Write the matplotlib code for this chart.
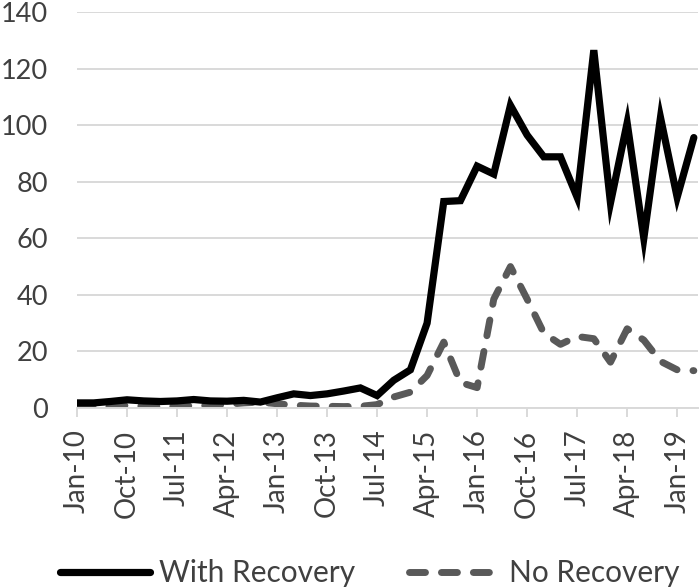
import matplotlib
matplotlib.use("Agg")
import matplotlib.pyplot as plt

categories = [
    "Jan-10", "Apr-10", "Jul-10", "Oct-10", "Jan-11", "Apr-11", "Jul-11", "Oct-11",
    "Jan-12", "Apr-12", "Jul-12", "Oct-12", "Jan-13", "Apr-13", "Jul-13", "Oct-13",
    "Jan-14", "Apr-14", "Jul-14", "Oct-14", "Jan-15", "Apr-15", "Jul-15", "Oct-15",
    "Jan-16", "Apr-16", "Jul-16", "Oct-16", "Jan-17", "Apr-17", "Jul-17", "Oct-17",
    "Jan-18", "Apr-18", "Jul-18", "Oct-18", "Jan-19", "Apr-19",
]

with_recovery = [
    1.8, 1.8, 2.3, 2.9, 2.5, 2.3, 2.5, 3.0, 2.5, 2.4, 2.7, 2.1, 3.6, 5.0, 4.4, 5.0,
    6.0, 7.1, 4.4, 9.8, 13.5, 30.0, 73.0, 73.3, 85.5, 82.7, 107.0, 96.5, 88.8, 88.8,
    74.5, 126.5, 72.5, 100.8, 60.0, 102.7, 74.5, 95.6,
]

no_recovery = [
    0.5, 0.5, 0.6, 0.9, 0.6, 0.5, 0.6, 0.8, 0.9, 1.3, 1.8, 2.1, 1.5, 1.0, 0.7, 0.6,
    0.5, 0.6, 1.2, 3.9, 5.6, 11.5, 23.3, 9.0, 7.2, 38.5, 50.0, 38.5, 26.5, 22.5,
    25.3, 24.5, 16.2, 28.0, 24.0, 16.5, 13.5, 13.2,
]

series_names = ["With Recovery", "No Recovery"]
y_ticks = [0, 20, 40, 60, 80, 100, 120, 140]

text_color = "#404040"
grid_color = "#D9D9D9"

plt.rcParams["font.family"] = ["Lato", "DejaVu Sans"]

fig = plt.figure(figsize=(7.0, 5.88), dpi=100)
ax = fig.add_axes([77 / 700, 1 - 408 / 588, (698 - 77) / 700, (408 - 12) / 588])

x = list(range(len(categories)))
ax.plot(x, with_recovery, color="black", lw=5.2, solid_joinstyle="miter",
        solid_capstyle="round", label=series_names[0], zorder=3)
ax.plot(x, no_recovery, color="#595959", lw=5.0, linestyle=(0, (2.3, 2.3)),
        dash_capstyle="round", dash_joinstyle="round", label=series_names[1], zorder=2)

ax.set_xlim(0, 37.25)
ax.set_ylim(0, 140)
ax.set_yticks(y_ticks)
ax.set_yticklabels([str(v) for v in y_ticks])
tick_idx = list(range(0, len(categories), 3))
ax.set_xticks(tick_idx)
ax.set_xticklabels([categories[i] for i in tick_idx], rotation=90)

ax.yaxis.grid(True, color=grid_color, lw=1.4)
ax.set_axisbelow(True)
for s in ["top", "right", "left"]:
    ax.spines[s].set_visible(False)
ax.spines["bottom"].set_color(grid_color)
ax.spines["bottom"].set_linewidth(1.4)

ax.tick_params(axis="y", length=0, pad=21, labelsize=19.5, labelcolor=text_color)
ax.tick_params(axis="x", length=6.5, width=1.4, color=grid_color, direction="out",
               pad=9, labelsize=20, labelcolor=text_color)

leg = fig.legend(loc="center left", bbox_to_anchor=(60 / 700, 1 - 573 / 588), ncol=2,
                 frameon=False, fontsize=21.5, handlelength=3.0, handletextpad=0.33,
                 columnspacing=1.8, borderaxespad=0, borderpad=0)
for t in leg.get_texts():
    t.set_color(text_color)

fig.savefig("out.png", dpi=100)
